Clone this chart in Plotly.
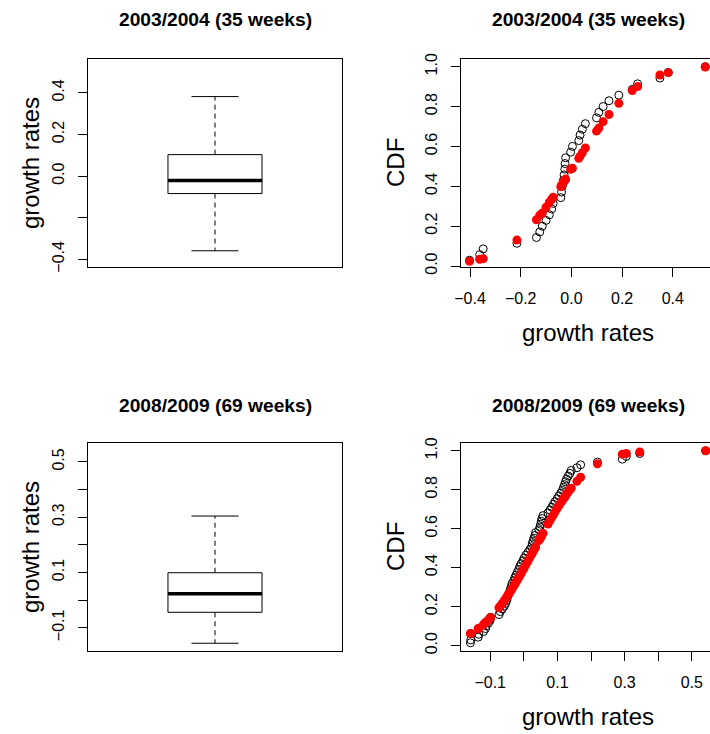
import plotly.graph_objects as go

# ---------------- data ----------------
titles_top = "2003/2004 (35 weeks)"
titles_bottom = "2008/2009 (69 weeks)"

# boxplot stats: lower whisker, Q1, median, Q3, upper whisker
box_0304 = [-0.359, -0.084, -0.021, 0.103, 0.382]
box_0809 = [-0.156, -0.044, 0.023, 0.099, 0.304]

# 2003/2004 growth rates (sorted), empirical CDF, fitted CDF
x_0304 = [-0.402, -0.362, -0.348, -0.215, -0.138, -0.125, -0.115, -0.100, -0.087, -0.078,
          -0.072, -0.042, -0.039, -0.036, -0.032, -0.029, -0.026, -0.025, -0.023, -0.003,
          0.004, 0.029, 0.034, 0.043, 0.055, 0.099, 0.108, 0.125, 0.148, 0.187,
          0.240, 0.261, 0.349, 0.382, 0.528]
emp_0304 = [0.029, 0.057, 0.086, 0.114, 0.143, 0.171, 0.200, 0.229, 0.257, 0.286,
            0.314, 0.343, 0.371, 0.400, 0.429, 0.457, 0.486, 0.514, 0.543, 0.571,
            0.600, 0.629, 0.657, 0.686, 0.714, 0.743, 0.771, 0.800, 0.829, 0.857,
            0.886, 0.914, 0.943, 0.971, 1.000]
fit_0304 = [0.024, 0.034, 0.037, 0.130, 0.232, 0.255, 0.266, 0.295, 0.320, 0.335,
            0.345, 0.398, 0.404, 0.410, 0.418, 0.425, 0.430, 0.432, 0.436, 0.485,
            0.490, 0.540, 0.550, 0.568, 0.592, 0.677, 0.692, 0.724, 0.760, 0.816,
            0.880, 0.900, 0.958, 0.970, 0.998]

# 2008/2009 growth rates (sorted), empirical CDF, fitted CDF
x_0809 = [-0.159, -0.158, -0.136, -0.134, -0.120, -0.114, -0.112, -0.105, -0.100, -0.099,
          -0.074, -0.070, -0.064, -0.058, -0.054, -0.051, -0.049, -0.046, -0.043, -0.040,
          -0.037, -0.035, -0.030, -0.027, -0.023, -0.019, -0.015, -0.012, -0.008, -0.003,
          0.001, 0.006, 0.012, 0.018, 0.023, 0.025, 0.027, 0.030, 0.033, 0.035,
          0.045, 0.048, 0.050, 0.052, 0.054, 0.057, 0.072, 0.078, 0.083, 0.088,
          0.093, 0.099, 0.104, 0.110, 0.115, 0.118, 0.121, 0.124, 0.127, 0.132,
          0.137, 0.141, 0.158, 0.169, 0.219, 0.293, 0.305, 0.345, 0.541]
emp_0809 = [0.014, 0.029, 0.043, 0.058, 0.072, 0.087, 0.101, 0.116, 0.130, 0.145,
            0.159, 0.174, 0.188, 0.203, 0.217, 0.232, 0.246, 0.261, 0.275, 0.290,
            0.304, 0.319, 0.333, 0.348, 0.362, 0.377, 0.391, 0.406, 0.420, 0.435,
            0.449, 0.464, 0.478, 0.493, 0.507, 0.522, 0.536, 0.551, 0.565, 0.580,
            0.594, 0.609, 0.623, 0.638, 0.652, 0.667, 0.681, 0.696, 0.710, 0.725,
            0.739, 0.754, 0.768, 0.783, 0.797, 0.812, 0.826, 0.841, 0.855, 0.870,
            0.884, 0.899, 0.913, 0.928, 0.942, 0.957, 0.971, 0.986, 1.000]
fit_0809 = [0.061, 0.062, 0.086, 0.089, 0.109, 0.118, 0.121, 0.133, 0.142, 0.143,
            0.194, 0.203, 0.217, 0.231, 0.241, 0.249, 0.254, 0.262, 0.270, 0.278,
            0.286, 0.292, 0.306, 0.314, 0.326, 0.338, 0.349, 0.358, 0.370, 0.386,
            0.398, 0.414, 0.433, 0.452, 0.468, 0.474, 0.481, 0.490, 0.500, 0.506,
            0.539, 0.548, 0.555, 0.561, 0.567, 0.577, 0.624, 0.642, 0.657, 0.671,
            0.686, 0.703, 0.717, 0.733, 0.746, 0.753, 0.761, 0.768, 0.776, 0.788,
            0.799, 0.808, 0.843, 0.864, 0.933, 0.982, 0.986, 0.994, 1.000]

ticks_gr_0304 = [-0.4, -0.2, 0.0, 0.2, 0.4]
ticktext_box_0304 = ["\u22120.4", "", "0.0", "0.2", "0.4"]
ticktext_cdfx_0304 = ["\u22120.4", "\u22120.2", "0.0", "0.2", "0.4"]
ticks_gr_0809 = [-0.1, 0.0, 0.1, 0.2, 0.3, 0.4, 0.5]
ticktext_gr_0809 = ["\u22120.1", "", "0.1", "", "0.3", "", "0.5"]
ticks_cdf = [0.0, 0.2, 0.4, 0.6, 0.8, 1.0]
ticktext_cdf = ["0.0", "0.2", "0.4", "0.6", "0.8", "1.0"]

# ---------------- layout geometry ----------------
W, H = 710, 734
FONT = "Liberation Sans, Arial, Helvetica, sans-serif"

def xd(a, b):
    return [a / W, min(b / W, 1.0)]

def yd(top, bottom):
    return [1 - bottom / H, 1 - top / H]

fig = go.Figure()

def add_box(stats, xa, ya):
    lw, q1, med, q3, uw = stats
    xr = f"x{xa}" if xa > 1 else "x"
    yr = f"y{ya}" if ya > 1 else "y"
    fig.add_trace(go.Scatter(x=[0.8, 1.2, 1.2, 0.8, 0.8], y=[q1, q1, q3, q3, q1], mode="lines",
                             line=dict(color="black", width=1), xaxis=xr, yaxis=yr, showlegend=False))
    fig.add_trace(go.Scatter(x=[0.8, 1.2], y=[med, med], mode="lines",
                             line=dict(color="black", width=3.5), xaxis=xr, yaxis=yr, showlegend=False))
    fig.add_trace(go.Scatter(x=[1, 1, None, 1, 1], y=[q3, uw, None, q1, lw], mode="lines",
                             line=dict(color="black", width=1, dash="5px,4px"), xaxis=xr, yaxis=yr,
                             showlegend=False))
    fig.add_trace(go.Scatter(x=[0.9, 1.1, None, 0.9, 1.1], y=[uw, uw, None, lw, lw], mode="lines",
                             line=dict(color="black", width=1), xaxis=xr, yaxis=yr, showlegend=False))

def add_cdf(xv, emp, fit, xa, ya):
    xr = f"x{xa}"
    yr = f"y{ya}"
    fig.add_trace(go.Scatter(x=xv, y=emp, mode="markers", xaxis=xr, yaxis=yr, showlegend=False,
                             cliponaxis=False,
                             marker=dict(symbol="circle-open", size=8, color="black",
                                         line=dict(width=1, color="black"))))
    fig.add_trace(go.Scatter(x=xv, y=fit, mode="markers", xaxis=xr, yaxis=yr, showlegend=False,
                             cliponaxis=False,
                             marker=dict(symbol="circle", size=9, color="#FF0000")))

add_box(box_0304, 1, 1)
add_cdf(x_0304, emp_0304, fit_0304, 2, 2)
add_box(box_0809, 3, 3)
add_cdf(x_0809, emp_0809, fit_0809, 4, 4)

tickfont = dict(family=FONT, size=16, color="black")
common = dict(showgrid=False, zeroline=False, showline=True, linecolor="black", linewidth=1,
              ticks="outside", ticklen=9, tickcolor="black", tickwidth=1, tickfont=tickfont,
              ticklabelstandoff=8, automargin=False)

top_row = yd(58.5, 267)
bot_row = yd(442.5, 651)

fig.update_layout(
    width=W, height=H, autosize=False,
    margin=dict(l=0, r=0, t=0, b=0, pad=0),
    paper_bgcolor="white", plot_bgcolor="white",
    font=dict(family=FONT, color="black"),
    hovermode=False,
    xaxis=dict(domain=xd(88, 342), range=[0.46, 1.54], showgrid=False, zeroline=False,
               showline=True, linecolor="black", linewidth=1, mirror=True,
               showticklabels=False, ticks="", anchor="y", automargin=False),
    yaxis=dict(domain=top_row, range=[-0.437, 0.565], tickvals=ticks_gr_0304,
               ticktext=ticktext_box_0304, tickangle=-90, mirror=True, anchor="x", **common),
    xaxis2=dict(domain=xd(461, 710), range=[-0.4356, 0.5466], tickvals=ticks_gr_0304,
                ticktext=ticktext_cdfx_0304, mirror=True, anchor="y2", **common),
    yaxis2=dict(domain=top_row, range=[-0.005, 1.041], tickvals=ticks_cdf, ticktext=ticktext_cdf,
                tickangle=-90, mirror=False, anchor="x2", **common),
    xaxis3=dict(domain=xd(88, 342), range=[0.46, 1.54], showgrid=False, zeroline=False,
                showline=True, linecolor="black", linewidth=1, mirror=True,
                showticklabels=False, ticks="", anchor="y3", automargin=False),
    yaxis3=dict(domain=bot_row, range=[-0.184, 0.570], tickvals=ticks_gr_0809,
                ticktext=ticktext_gr_0809, tickangle=-90, mirror=True, anchor="x3", **common),
    xaxis4=dict(domain=xd(461, 710), range=[-0.187, 0.554], tickvals=ticks_gr_0809,
                ticktext=ticktext_gr_0809, mirror=True, anchor="y4", **common),
    yaxis4=dict(domain=bot_row, range=[-0.028, 1.0425], tickvals=ticks_cdf, ticktext=ticktext_cdf,
                tickangle=-90, mirror=False, anchor="x4", **common),
)

def ann(text, x, y, size, bold=False, angle=0):
    fig.add_annotation(text=f"<b>{text}</b>" if bold else text, x=x / W, y=1 - y / H,
                       xref="paper", yref="paper", showarrow=False, xanchor="center",
                       yanchor="middle", textangle=angle,
                       font=dict(family=FONT, size=size, color="black"))

ann(titles_top, 215, 20, 19.2, bold=True)
ann(titles_top, 588, 20, 19.2, bold=True)
ann(titles_bottom, 215, 405, 19.2, bold=True)
ann(titles_bottom, 588, 405, 19.2, bold=True)
ann("growth rates", 30, 163, 24, angle=-90)
ann("growth rates", 30, 547, 24, angle=-90)
ann("CDF", 395, 163, 24, angle=-90)
ann("CDF", 395, 547, 24, angle=-90)
ann("growth rates", 588, 332, 24)
ann("growth rates", 588, 716, 24)

fig.write_html("out.html", config={"displayModeBar": False, "staticPlot": True},
               post_script="document.body.style.margin='0px';document.body.style.overflow='hidden';")
